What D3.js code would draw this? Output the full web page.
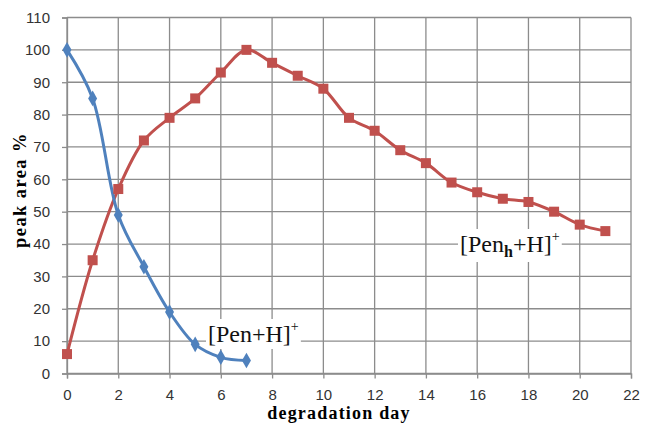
<!DOCTYPE html>
<html><head><meta charset="utf-8">
<script src="https://cdn.jsdelivr.net/npm/d3@7"></script>
<style>body{margin:0;background:#fff}</style>
</head><body>
<svg id="c" width="658" height="426"></svg>
<script>
const xTicks = [0,2,4,6,8,10,12,14,16,18,20,22];
const yTicks = [0,10,20,30,40,50,60,70,80,90,100,110];
const penDays = [0,1,2,3,4,5,6,7];
const penValues = [100,85,49,33,19,9,5,4];
const penhDays = [0,1,2,3,4,5,6,7,8,9,10,11,12,13,14,15,16,17,18,19,20,21];
const penhValues = [6,35,57,72,79,85,93,100,96,92,88,79,75,69,65,59,56,54,53,50,46,44];

const svg = d3.select("#c");
const L=67,R=631,T=17.5,B=373.5;
const x = d3.scaleLinear().domain([0,22]).range([L,R]);
const y = d3.scaleLinear().domain([0,110]).range([B,T]);

// grid
svg.append("g").selectAll("line").data(xTicks).join("line")
  .attr("x1",d=>x(d)).attr("x2",d=>x(d)).attr("y1",T).attr("y2",B)
  .attr("stroke","#8c8c8c").attr("stroke-width",1.3);
svg.append("g").selectAll("line").data(yTicks).join("line")
  .attr("x1",L).attr("x2",R).attr("y1",d=>y(d)).attr("y2",d=>y(d))
  .attr("stroke","#8c8c8c").attr("stroke-width",1.3);

// axes
const xa = svg.append("g").attr("transform",`translate(0,${B})`)
  .call(d3.axisBottom(x).tickValues(xTicks).tickSize(5).tickPadding(11));
const ya = svg.append("g").attr("transform",`translate(${L},0)`)
  .call(d3.axisLeft(y).tickValues(yTicks).tickSize(5).tickPadding(12));
[xa,ya].forEach(a=>{
  a.select(".domain").attr("stroke","#8c8c8c").attr("stroke-width",1.3);
  a.selectAll(".tick line").attr("stroke","#8c8c8c").attr("stroke-width",1.3);
  a.selectAll(".tick text").attr("font-family","Liberation Sans, Arial, sans-serif")
   .attr("font-size",15).attr("fill","#333");
});

// labels with white backgrounds
function label(px,py,parts){
  const g = svg.append("g");
  const t = g.append("text").attr("x",px).attr("y",py)
    .attr("font-family","Liberation Serif, Times New Roman, serif").attr("font-size",24).attr("fill","#111");
  parts.forEach(p=>{
    const ts = t.append("tspan").text(p.t);
    if(p.dy) ts.attr("dy",p.dy);
    if(p.fs) ts.attr("font-size",p.fs);
    if(p.fw) ts.attr("font-weight",p.fw);
  });
  const bb = t.node().getBBox();
  g.insert("rect","text").attr("x",bb.x-2).attr("y",bb.y).attr("width",bb.width+4).attr("height",bb.height+2).attr("fill","#fff");
}
label(208,342,[{t:"[Pen+H]"},{t:"+",dy:-11,fs:14}]);
label(460,252,[{t:"[Pen"},{t:"h",dy:5,fs:16,fw:"bold"},{t:"+H]",dy:-5},{t:"+",dy:-11,fs:14}]);

// series
const line = d3.line().x(d=>x(d[0])).y(d=>y(d[1])).curve(d3.curveCatmullRom.alpha(0.5));
const pen = penDays.map((d,i)=>[d,penValues[i]]);
const penh = penhDays.map((d,i)=>[d,penhValues[i]]);

svg.append("path").datum(penh).attr("d",line).attr("fill","none").attr("stroke","#C0504D").attr("stroke-width",3);
svg.append("path").datum(pen).attr("d",line).attr("fill","none").attr("stroke","#4F81BD").attr("stroke-width",3);

svg.append("g").selectAll("rect").data(penh).join("rect")
  .attr("x",d=>x(d[0])-5).attr("y",d=>y(d[1])-5).attr("width",10).attr("height",10)
  .attr("fill","#C0504D");
svg.append("g").selectAll("path").data(pen).join("path")
  .attr("transform",d=>`translate(${x(d[0])},${y(d[1])})`)
  .attr("d",d3.symbol(d3.symbolDiamond,70)).attr("fill","#4F81BD");

// axis titles
svg.append("text").attr("x",339).attr("y",419).attr("text-anchor","middle")
  .attr("font-family","Liberation Serif, Times New Roman, serif").attr("font-weight","bold").attr("font-size",18)
  .attr("letter-spacing",1.2)
  .text("degradation day");
svg.append("text").attr("transform","translate(26,190) rotate(-90)").attr("text-anchor","middle")
  .attr("font-family","Liberation Serif, Times New Roman, serif").attr("font-weight","bold").attr("font-size",18.5)
  .attr("letter-spacing",1.4)
  .text("peak area %");
</script>
</body></html>
